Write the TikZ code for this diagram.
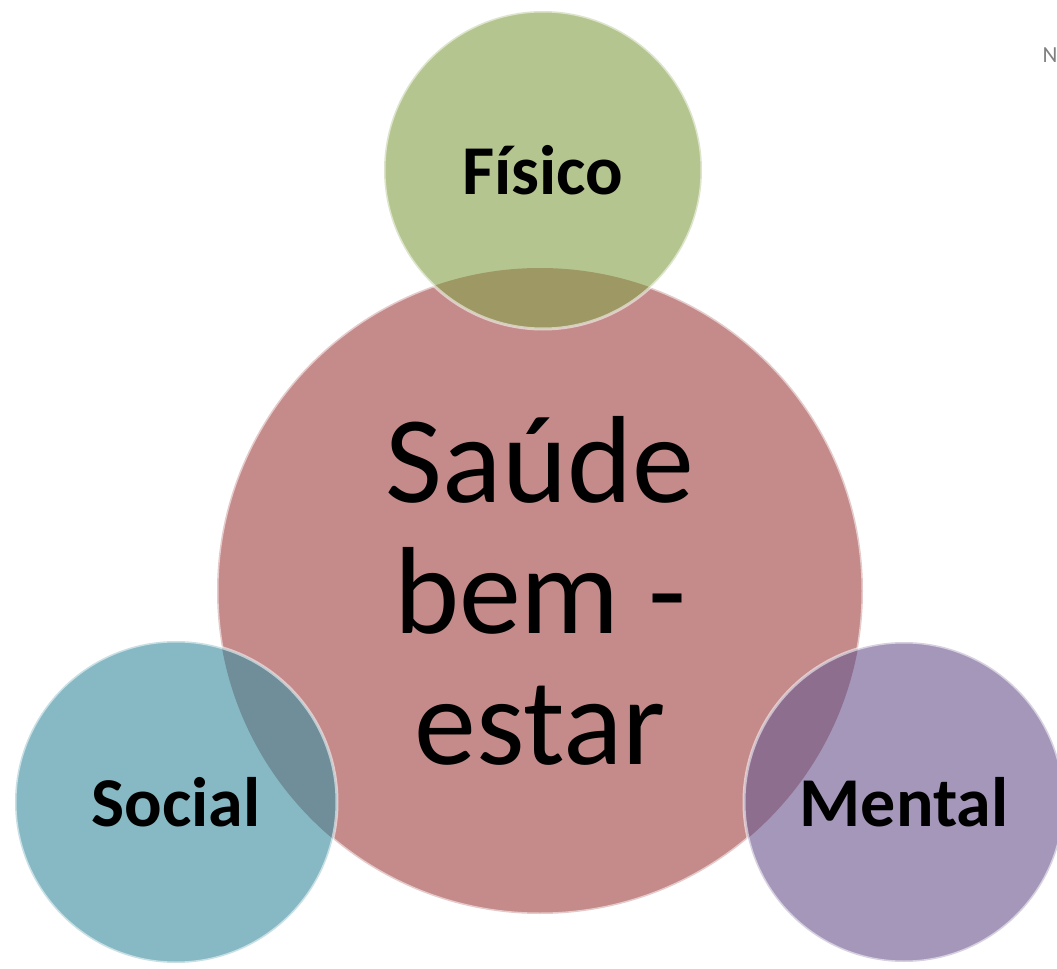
\documentclass[tikz,border=0pt]{standalone}
\usepackage{fontspec}
\setmainfont{Carlito}
\usepackage{tikz}

\definecolor{saudeRed}{RGB}{196,139,138}
\definecolor{fisicoGreen}{RGB}{181,197,143}
\definecolor{socialBlue}{RGB}{135,185,197}
\definecolor{mentalLilac}{RGB}{165,151,186}
\definecolor{fisicoOver}{RGB}{158,152,100}
\definecolor{socialOver}{RGB}{111,142,153}
\definecolor{mentalOver}{RGB}{141,110,142}

\begin{document}
\begin{tikzpicture}[%
	x=0.5pt, y=-0.5pt,
  	every node/.style = {shape=circle, inner sep=0pt, outer sep=0pt, align=center},
  	bubble/.style={draw=white, draw opacity=.55, line width=1.5pt},
  	small bubble/.style={bubble, minimum size=#1, font=\fontsize{35}{40}\selectfont\bfseries},
  	overlap/.style={path picture={\fill[#1] (saude) circle[radius=161.5pt];}}
	]
  \useasboundingbox (0,0) rectangle (1057,969);
  \node [bubble, fill=saudeRed, minimum size=323pt, font=\fontsize{62}{65.5}\selectfont] (saude) at (540,591) {Saúde\\bem -\\estar};
  \node [small bubble=159pt, fill=fisicoGreen, overlap=fisicoOver] (fisico) at (543,170) {Físico};
  \node [small bubble=161pt, fill=socialBlue, overlap=socialOver] (social) at (176,802) {Social};
  \node [small bubble=160pt, fill=mentalLilac, overlap=mentalOver] (mental) at (904,802) {Mental};
  \node [shape=rectangle, text=gray, font=\fontsize{11.5}{12}\selectfont] (n) at (1050,55) {N};
\end{tikzpicture}
\end{document}
